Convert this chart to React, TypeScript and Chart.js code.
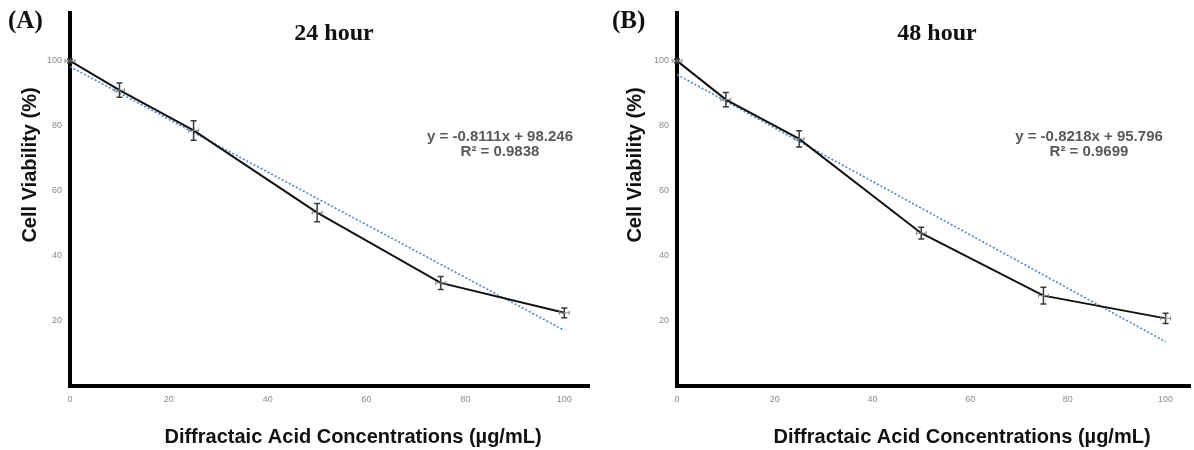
import React, { useEffect, useRef } from 'react';
import { Chart, registerables } from 'chart.js';

Chart.register(...registerables);

// ---------- data ----------
const concentrations = [0, 10, 25, 50, 75, 100];
const viability24 = [100, 91, 78.6, 53.3, 31.7, 22.5];
const error24 = [0.6, 2.2, 3, 2.8, 2, 1.5];
const viability48 = [100, 88.1, 76, 47, 27.8, 20.8];
const error48 = [0.6, 2.2, 2.5, 1.8, 2.6, 1.6];
const xError = [1, 1, 1, 1, 1, 1];
const trendX = [0, 100];
const trend24 = [98.246, 17.136];
const trend48 = [95.796, 13.616];
const xTicks = [0, 20, 40, 60, 80, 100];
const yTicks = [20, 40, 60, 80, 100];
const equation24 = ['y = -0.8111x + 98.246', 'R² = 0.9838'];
const equation48 = ['y = -0.8218x + 95.796', 'R² = 0.9699'];
const xTitle = 'Diffractaic Acid Concentrations (µg/mL)';
const yTitle = 'Cell Viability (%)';

type PanelProps = {
  left: number;
  label: string;
  title: string;
  values: number[];
  errors: number[];
  trend: number[];
  equation: string[];
  yAxisWidth: number;
  padRight: number;
  labelX: number;
  titleX: number;
  eqX: number;
  yTitleX: number;
  xTitleX: number;
};

const errorBarPlugin = {
  id: 'errorBars',
  afterDatasetsDraw(chart: any, _args: any, opts: any) {
    const { ctx, scales } = chart;
    const xs = scales.x;
    const ys = scales.y;
    ctx.save();
    concentrations.forEach((cx: number, i: number) => {
      const v = opts.values[i];
      const e = opts.errors[i];
      const xe = xError[i];
      const px = xs.getPixelForValue(cx);
      const py = ys.getPixelForValue(v);
      const top = ys.getPixelForValue(v + e);
      const bot = ys.getPixelForValue(v - e);
      const l = xs.getPixelForValue(cx - xe);
      const r = xs.getPixelForValue(cx + xe);
      ctx.lineWidth = 1.5;
      ctx.strokeStyle = '#3a3a3a';
      ctx.beginPath();
      ctx.moveTo(px, top);
      ctx.lineTo(px, bot);
      ctx.moveTo(px - 3, top);
      ctx.lineTo(px + 3, top);
      ctx.moveTo(px - 3, bot);
      ctx.lineTo(px + 3, bot);
      ctx.stroke();
      ctx.lineWidth = 1;
      ctx.strokeStyle = '#888';
      ctx.beginPath();
      ctx.moveTo(l, py);
      ctx.lineTo(r, py);
      ctx.moveTo(l, py - 2);
      ctx.lineTo(l, py + 2);
      ctx.moveTo(r, py - 2);
      ctx.lineTo(r, py + 2);
      ctx.stroke();
    });
    ctx.restore();
  },
};

const textPlugin = {
  id: 'panelTexts',
  afterDraw(chart: any, _args: any, o: any) {
    const { ctx } = chart;
    ctx.save();
    ctx.fillStyle = '#111';
    ctx.textBaseline = 'middle';
    ctx.font = 'bold 25px "Liberation Serif", "Times New Roman", serif';
    ctx.textAlign = 'left';
    ctx.fillText(o.label, o.labelX, 22);
    ctx.font = 'bold 24px "Liberation Serif", "Times New Roman", serif';
    ctx.textAlign = 'center';
    ctx.fillText(o.title, o.titleX, 34);
    ctx.font = 'bold 15px "Liberation Sans", Arial, sans-serif';
    ctx.fillStyle = '#595959';
    ctx.fillText(o.equation[0], o.eqX, 137);
    ctx.fillText(o.equation[1], o.eqX, 152);
    ctx.fillStyle = '#111';
    ctx.font = 'bold 20px "Liberation Sans", Arial, sans-serif';
    ctx.fillText(xTitle, o.xTitleX, 437);
    ctx.translate(o.yTitleX, 165);
    ctx.rotate(-Math.PI / 2);
    ctx.fillText(yTitle, 0, 0);
    ctx.restore();
  },
};

function Panel(p: PanelProps) {
  const ref = useRef<HTMLCanvasElement>(null);
  useEffect(() => {
    const canvas = ref.current;
    if (!canvas) return;
    const chart = new Chart(canvas, {
      type: 'line',
      data: {
        datasets: [
          {
            data: concentrations.map((x, i) => ({ x, y: p.values[i] })),
            borderColor: '#111',
            borderWidth: 2,
            pointRadius: 0,
            tension: 0,
          },
          {
            data: trendX.map((x, i) => ({ x, y: p.trend[i] })),
            borderColor: '#4a86c8',
            borderWidth: 1.6,
            borderDash: [2, 2],
            pointRadius: 0,
          },
        ],
      },
      options: {
        responsive: false,
        animation: false,
        layout: { padding: { left: 0, top: 10, right: p.padRight, bottom: 0 } },
        plugins: {
          legend: { display: false },
          tooltip: { enabled: false },
          errorBars: { values: p.values, errors: p.errors },
          panelTexts: {
            label: p.label,
            title: p.title,
            equation: p.equation,
            labelX: p.labelX,
            titleX: p.titleX,
            eqX: p.eqX,
            yTitleX: p.yTitleX,
            xTitleX: p.xTitleX,
          },
        } as any,
        scales: {
          x: {
            type: 'linear',
            min: 0,
            max: 105,
            grid: { display: false, drawTicks: false },
            border: { display: true, color: '#000', width: 4 },
            afterBuildTicks: (s: any) => {
              s.ticks = xTicks.map((v) => ({ value: v }));
            },
            afterFit: (s: any) => {
              s.height = 64;
            },
            ticks: {
              color: '#8a8a8a',
              font: { size: 9, family: '"Liberation Sans", Arial, sans-serif' },
              padding: 8,
              maxRotation: 0,
            },
          },
          y: {
            type: 'linear',
            min: 0,
            max: 114.6,
            grid: { display: false, drawTicks: false },
            border: { display: true, color: '#000', width: 4 },
            afterBuildTicks: (s: any) => {
              s.ticks = yTicks.map((v) => ({ value: v }));
            },
            afterFit: (s: any) => {
              s.width = p.yAxisWidth;
            },
            ticks: {
              color: '#8a8a8a',
              font: { size: 9, family: '"Liberation Sans", Arial, sans-serif' },
              padding: 8,
            },
          },
        },
      },
      plugins: [errorBarPlugin, textPlugin],
    } as any);
    return () => chart.destroy();
  }, []);
  return (
    <canvas
      ref={ref}
      width={597}
      height={450}
      style={{ position: 'absolute', left: p.left, top: 0, width: 597, height: 450 }}
    />
  );
}

export default function App() {
  return (
    <div style={{ position: 'fixed', left: 0, top: 0, width: 1194, height: 450, background: '#fff', overflow: 'hidden' }}>
      <Panel
        left={0}
        label="(A)"
        title="24 hour"
        values={viability24}
        errors={error24}
        trend={trend24}
        equation={equation24}
        yAxisWidth={70}
        padRight={8}
        labelX={8}
        titleX={334}
        eqX={500}
        yTitleX={30}
        xTitleX={353}
      />
      <Panel
        left={597}
        label="(B)"
        title="48 hour"
        values={viability48}
        errors={error48}
        trend={trend48}
        equation={equation48}
        yAxisWidth={80}
        padRight={4}
        labelX={15}
        titleX={340}
        eqX={492}
        yTitleX={38}
        xTitleX={365}
      />
    </div>
  );
}
